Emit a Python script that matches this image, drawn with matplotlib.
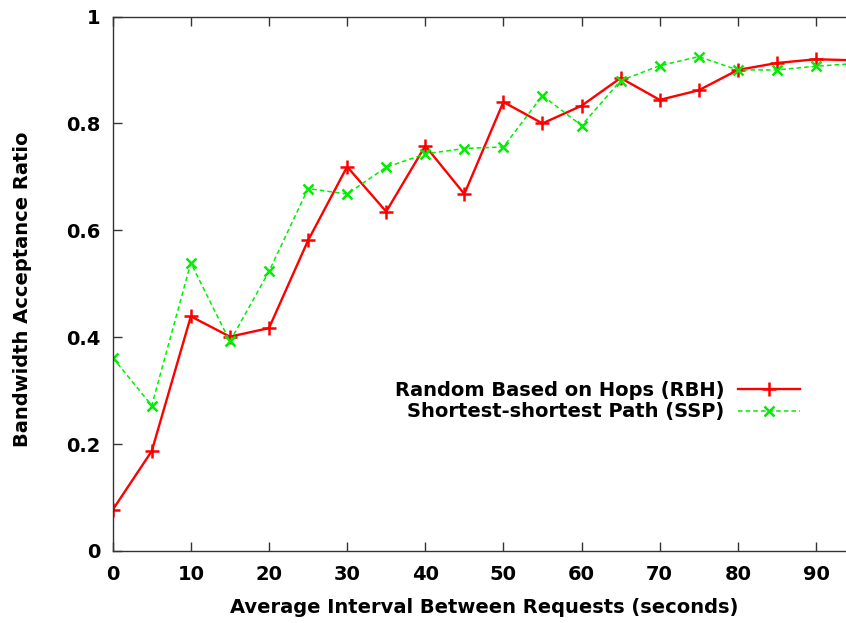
import matplotlib
matplotlib.use("Agg")
import matplotlib.pyplot as plt

intervals = [0, 5, 10, 15, 20, 25, 30, 35, 40, 45, 50, 55, 60, 65, 70, 75, 80, 85, 90, 95]
rbh = [0.077, 0.187, 0.439, 0.401, 0.417, 0.581, 0.719, 0.635, 0.758, 0.668,
       0.840, 0.800, 0.833, 0.885, 0.844, 0.862, 0.900, 0.913, 0.920, 0.918]
ssp = [0.362, 0.272, 0.539, 0.392, 0.523, 0.678, 0.668, 0.718, 0.743, 0.753,
       0.756, 0.852, 0.796, 0.880, 0.908, 0.925, 0.900, 0.900, 0.907, 0.912]
labels = ["Random Based on Hops (RBH)", "Shortest-shortest Path (SSP)"]
xticks = [0, 10, 20, 30, 40, 50, 60, 70, 80, 90]
yticks = [0, 0.2, 0.4, 0.6, 0.8, 1.0]
yticklabels = ["0", "0.2", "0.4", "0.6", "0.8", "1"]

plt.rcParams['font.family'] = ['DejaVu Sans']
plt.rcParams['font.weight'] = 'bold'
FS = 14

W, H = 846, 623
fig = plt.figure(figsize=(W / 100, H / 100), dpi=100)
x0, x1 = 112.7, 112.7 + 95 * 7.814
ytop, ybot = 16.5, 551
ax = fig.add_axes([x0 / W, (H - ybot) / H, (x1 - x0) / W, (ybot - ytop) / H])

ax.plot(intervals, rbh, color='#ff0000', lw=1.7, marker='+', ms=10, mew=1.8,
        label=labels[0])
ax.plot(intervals, ssp, color='#00ee00', lw=1.1, ls=(0, (3, 2)), marker='x', ms=7,
        mew=1.8, label=labels[1])

ax.set_xlim(0, 95)
ax.set_ylim(0, 1)
ax.set_xticks(xticks)
ax.set_yticks(yticks)
ax.set_yticklabels(yticklabels)
ax.tick_params(axis='both', direction='in', length=6.5, width=1, labelsize=FS,
               top=True, right=False, color='#333333')
ax.tick_params(axis='x', pad=10)
ax.tick_params(axis='y', pad=9)
for lab in ax.get_xticklabels() + ax.get_yticklabels():
    lab.set_fontweight('bold')
for s in ax.spines.values():
    s.set_linewidth(1.0)
    s.set_color('#333333')

ax.set_xlabel("Average Interval Between Requests (seconds)", fontsize=FS,
              fontweight='bold', labelpad=10)
ax.set_ylabel("Bandwidth Acceptance Ratio", fontsize=FS, fontweight='bold',
              labelpad=24)
ax.yaxis.label.set_y(0.4906)

leg = fig.legend(loc='upper right', bbox_to_anchor=(800 / W, 1 - 381 / H),
                 bbox_transform=fig.transFigure, frameon=False, markerfirst=False,
                 handlelength=3.2, handletextpad=0.7,
                 labelspacing=0.12, borderpad=0, borderaxespad=0,
                 prop={'weight': 'bold', 'size': FS})
leg._legend_box.align = 'right'
for t in leg.get_texts():
    t.set_ha('right')

fig.savefig("out.png", dpi=100)
